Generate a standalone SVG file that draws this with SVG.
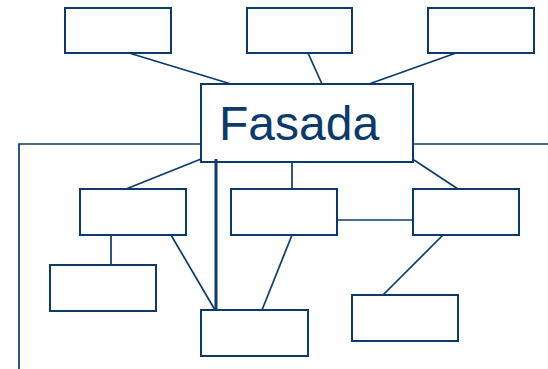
<svg xmlns="http://www.w3.org/2000/svg" width="548" height="369" viewBox="0 0 548 369">
<style>
.box{fill:#fff;stroke:#0b3a6b;stroke-width:2}
.ln{fill:none;stroke:#0b3a6b;stroke-width:1.7}
.thick{fill:none;stroke:#0b3a6b;stroke-width:3}
.lbl{font-family:"Liberation Sans",Arial,sans-serif;font-size:48px;fill:#0b3a6b}
</style>
<rect width="548" height="369" fill="#fff"/>
<g id="connectors">
<polyline class="ln" points="201,144 19,144 19,369"/>
<line class="ln" x1="413" y1="144" x2="548" y2="144"/>
<line class="ln" x1="129" y1="53" x2="231" y2="84"/>
<line class="ln" x1="308" y1="53" x2="322" y2="84"/>
<line class="ln" x1="456" y1="53" x2="369" y2="84"/>
<line class="ln" x1="201" y1="159" x2="126" y2="189"/>
<line class="ln" x1="292" y1="159" x2="292" y2="189"/>
<line class="ln" x1="414" y1="160" x2="458" y2="189"/>
<line class="ln" x1="337" y1="220" x2="413" y2="220"/>
<line class="ln" x1="111" y1="235" x2="111" y2="265"/>
<line class="ln" x1="171" y1="235" x2="215" y2="310"/>
<line class="ln" x1="292" y1="235" x2="262" y2="310"/>
<line class="ln" x1="443" y1="235" x2="383" y2="295"/>
</g>
<g id="top1"><rect class="box" x="65" y="8" width="106" height="45"/></g>
<g id="top2"><rect class="box" x="247" y="8" width="105" height="45"/></g>
<g id="top3"><rect class="box" x="428" y="8" width="106" height="45"/></g>
<g id="fasada"><rect class="box" x="201" y="84" width="212" height="78"/><text class="lbl" x="219" y="140">Fasada</text></g>
<g id="midA"><rect class="box" x="80" y="189" width="106" height="46"/></g>
<g id="midB"><rect class="box" x="231" y="189" width="106" height="46"/></g>
<g id="midC"><rect class="box" x="413" y="189" width="106" height="46"/></g>
<g id="lowD"><rect class="box" x="50" y="265" width="106" height="46"/></g>
<g id="lowE"><rect class="box" x="201" y="310" width="107" height="46"/></g>
<g id="lowF"><rect class="box" x="352" y="295" width="106" height="46"/></g>
<g id="connector-thick"><line class="thick" x1="216" y1="159" x2="216" y2="310"/></g>
</svg>
